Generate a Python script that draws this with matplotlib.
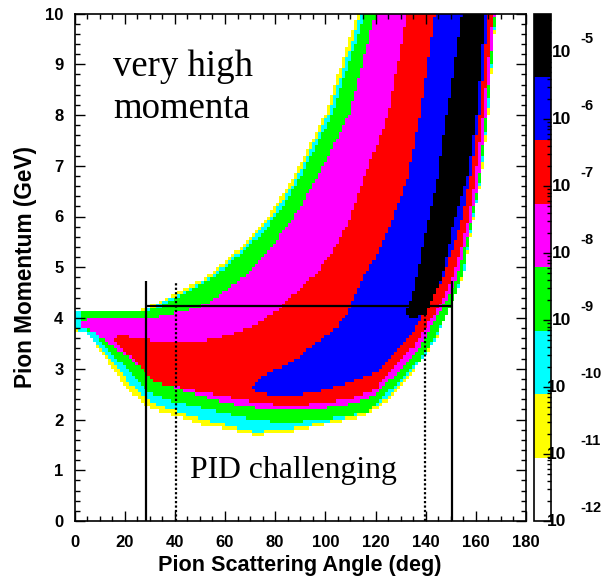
import numpy as np
import matplotlib
matplotlib.use("Agg")
import matplotlib.pyplot as plt
from matplotlib.colors import ListedColormap, LogNorm
from matplotlib.path import Path
from matplotlib.ticker import MultipleLocator, LogLocator, NullFormatter

# ---------------- data ----------------
# colour bands (low -> high), equal steps in log10 between z_min_exp and z_max_exp
band_colors = ["#ffffff", "#ffff00", "#00ffff", "#00ff00",
               "#ff00ff", "#ff0000", "#0000ff", "#000000"]
z_min_exp = -12.0
z_max_exp = -4.425

# histogram binning (angle in deg, momentum in GeV)
angle_edges = np.linspace(0, 180, 151)
momentum_edges = np.linspace(0, 10, 151)

# outlines (angle, momentum) of regions where the value reaches each band
yellow_region = [(113.5, 10.5), (113, 10), (100, 8.0), (87, 6.75), (80, 6.2), (74, 5.8),
                 (66.5, 5.4), (53, 4.82), (40, 4.47), (30, 4.22), (25, 4.14), (20, 4.13),
                 (0, 4.13), (0, 3.75), (5, 3.7), (8, 3.5), (13, 3.15), (18.7, 2.75),
                 (23, 2.5), (30.7, 2.2), (40, 2.08), (51, 1.9), (64, 1.78), (72, 1.68),
                 (86.6, 1.76), (100, 1.9), (112, 2.02), (120, 2.18), (125, 2.4),
                 (130, 2.68), (137.7, 3.12), (144.5, 3.62), (148.4, 4.08), (152.4, 4.52),
                 (155.5, 4.92), (158.5, 5.8), (162, 6.7), (165, 8.0), (168, 10), (168.5, 10.5)]
cyan_region = [(114.7, 10.5), (114.5, 10), (101.5, 8.04), (88.5, 6.75), (81.5, 6.2),
               (75.5, 5.8), (68, 5.4), (54.5, 4.82), (41.5, 4.46), (31.5, 4.21), (26, 4.13),
               (0, 4.12), (0, 3.78), (5, 3.72), (8, 3.55), (13.3, 3.25), (18.7, 2.9),
               (23, 2.65), (30.7, 2.33), (40, 2.17), (51, 2.0), (64, 1.85), (72, 1.75),
               (86.6, 1.82), (100, 1.95), (112, 2.07), (120, 2.25), (125, 2.45), (130, 2.7),
               (137.7, 3.14), (144.5, 3.64), (148.4, 4.09), (152.4, 4.53), (155.3, 4.93),
               (158.3, 5.8), (161.8, 6.7), (164.8, 8.0), (167.9, 10), (168.3, 10.5)]
green_region = [(116.5, 10.5), (116, 10), (103, 8.04), (90, 6.75), (83, 6.2), (77, 5.8),
                (69.5, 5.4), (56, 4.82), (43, 4.45), (33, 4.2), (25, 4.1), (2, 4.1),
                (2, 3.85), (5, 3.75), (8, 3.7), (13.3, 3.37), (18.7, 3.1), (24, 2.84),
                (30.7, 2.5), (40, 2.35), (53, 2.2), (66.5, 2.05), (80, 1.95), (93, 1.97),
                (106.5, 2.05), (117, 2.15), (121.7, 2.4), (129.7, 2.78), (137.7, 3.18),
                (144.5, 3.7), (148.4, 4.1), (152.4, 4.55), (155, 4.94), (158, 5.8),
                (161.5, 6.7), (164.5, 8.0), (167.8, 10), (168, 10.5)]
magenta_region = [(121, 10.5), (120, 10), (110, 8.04), (96.5, 6.73), (90, 6.18), (85, 5.82),
                  (80, 5.5), (72, 5.0), (62, 4.6), (52, 4.25), (42, 4.12), (30, 4.0),
                  (5, 3.97), (2.5, 3.9), (3, 3.8), (6.7, 3.75), (13.3, 3.5), (22.7, 3.18),
                  (30.7, 2.84), (40, 2.62), (53, 2.43), (66.5, 2.26), (80, 2.2), (93, 2.2),
                  (106.5, 2.26), (117, 2.4), (121.7, 2.59), (129.7, 2.98), (137.7, 3.43),
                  (142.9, 3.9), (148.4, 4.35), (152.4, 4.8), (155, 5.3), (157.5, 5.8),
                  (161, 6.7), (164, 8.0), (167.5, 10), (168, 10.5)]
red_region = [(133, 10.5), (132.5, 10), (125, 8.04), (115.5, 6.73), (109, 5.85),
              (102.5, 5.27), (96, 4.85), (88, 4.49), (80, 4.12), (72, 3.86), (64, 3.7),
              (53, 3.57), (40, 3.5), (29, 3.57), (17, 3.67), (15.5, 3.6), (17, 3.45),
              (22, 3.25), (26.7, 3.04), (32, 2.72), (40, 2.65), (46.7, 2.58), (60, 2.45),
              (73, 2.33), (86.6, 2.26), (99.8, 2.33), (113, 2.45), (120, 2.58),
              (121.7, 2.72), (128.5, 3.12), (135, 3.43), (141.7, 3.96), (146.8, 4.35),
              (150.4, 4.8), (153.6, 5.3), (156.4, 5.82), (159.6, 6.73), (162.8, 8.04),
              (166.8, 10), (167, 10.5)]
blue_region = [(144, 10.5), (143.6, 10), (137.7, 8.04), (132.5, 6.73), (125.7, 5.82),
               (120, 5.2), (115, 4.77), (109.5, 4.14), (105, 3.82), (99.8, 3.63),
               (93, 3.37), (86.6, 3.12), (77, 2.92), (70.6, 2.65), (73, 2.52),
               (86.6, 2.45), (99.8, 2.58), (113, 2.78), (120, 2.92), (125, 3.15),
               (130, 3.45), (135, 3.76), (139, 4.1), (143, 4.4), (146.8, 4.8),
               (149.6, 5.2), (153.6, 5.82), (157.6, 6.73), (161.6, 8.04), (164.8, 10),
               (165, 10.5)]
black_region = [(154.4, 10.5), (154.4, 10), (148.4, 8.04), (144.5, 6.73), (140.5, 5.82),
                (137, 5.0), (135, 4.5), (132, 4.1), (134, 3.98), (140, 4.1), (144, 4.5),
                (146.8, 4.9), (150.8, 5.82), (156.4, 6.73), (160.4, 8.04), (163.6, 10),
                (163.6, 10.5)]
band_regions = [yellow_region, cyan_region, green_region, magenta_region,
                red_region, blue_region, black_region]

# analysis cut lines
cut_solid_angles = [28.6, 150.4]
cut_dotted_angles = [40.4, 139.7]
cut_top_momentum = 4.73
cut_momentum = 4.24

# ---------------- build the histogram ----------------
n_bands = len(band_colors)
band_width = (z_max_exp - z_min_exp) / n_bands
ac = 0.5 * (angle_edges[:-1] + angle_edges[1:])
mc = 0.5 * (momentum_edges[:-1] + momentum_edges[1:])
A, M = np.meshgrid(ac, mc)
pts = np.column_stack([A.ravel(), M.ravel()])
level = np.zeros(A.size, dtype=int)
for k, poly in enumerate(band_regions, start=1):
    inside = Path(poly).contains_points(pts)
    level[inside] = np.maximum(level[inside], k)
level = level.reshape(A.shape)
Z = 10.0 ** (z_min_exp + (level + 0.5) * band_width)
Z = np.ma.masked_where(level == 0, Z)

# ---------------- figure ----------------
W, H = 604, 578
fig = plt.figure(figsize=(W / 100, H / 100), dpi=100)
L, R, T, B = 74.5, 526, 13.5, 521
ax = fig.add_axes([L / W, 1 - B / H, (R - L) / W, (B - T) / H])
cax = fig.add_axes([534 / W, 1 - B / H, 17 / W, (B - T) / H])

cmap = ListedColormap(band_colors)
norm = LogNorm(vmin=10 ** z_min_exp, vmax=10 ** z_max_exp)
mesh = ax.pcolormesh(angle_edges, momentum_edges, Z, cmap=cmap, norm=norm,
                     shading="flat", rasterized=True)

ax.set_xlim(0, 180)
ax.set_ylim(0, 10)

ax.xaxis.set_major_locator(MultipleLocator(20))
ax.xaxis.set_minor_locator(MultipleLocator(5))
ax.yaxis.set_major_locator(MultipleLocator(1))
ax.yaxis.set_minor_locator(MultipleLocator(0.2))
ax.tick_params(which="both", direction="in", top=True, right=True, width=1)
ax.tick_params(which="major", length=7)
ax.tick_params(which="minor", length=3.5)
ax.tick_params(axis="x", pad=10)
ax.tick_params(axis="y", pad=8)
for lab in ax.get_xticklabels() + ax.get_yticklabels():
    lab.set_fontfamily("Liberation Sans")
    lab.set_fontweight("bold")
    lab.set_fontsize(12)
for s in ax.spines.values():
    s.set_linewidth(1.2)

ax.set_xlabel("Pion Scattering Angle (deg)", fontfamily="Liberation Sans",
              fontweight="bold", fontsize=15.6)
ax.set_ylabel("Pion Momentum (GeV)", fontfamily="Liberation Sans",
              fontweight="bold", fontsize=16.3)
ax.xaxis.set_label_coords(0.5, -0.067)
ax.yaxis.set_label_coords(-0.083, 0.5)

# cut lines
ax.vlines(cut_solid_angles, 0, cut_top_momentum, colors="black", linewidth=1.6)
ax.vlines(cut_dotted_angles, 0, cut_top_momentum, colors="black", linewidth=1.6,
          linestyles=(0, (1, 1)))
ax.hlines(cut_momentum, cut_solid_angles[0], cut_solid_angles[1], colors="black",
          linewidth=1.6)

# annotations
serif = dict(family="Liberation Serif", color="black")
ax.text(15.4, 8.77, "very high", fontsize=26.5, va="baseline", ha="left", **serif)
ax.text(15.4, 7.94, "momenta", fontsize=26.5, va="baseline", ha="left", **serif)
ax.text(46.0, 0.85, "PID challenging", fontsize=22.8, va="baseline", ha="left", **serif)

# colour bar
cb = fig.colorbar(mesh, cax=cax)
cb.outline.set_linewidth(1.2)
cax.yaxis.set_major_locator(LogLocator(base=10, numticks=20))
cax.yaxis.set_minor_locator(LogLocator(base=10, subs=np.arange(2, 10), numticks=20))
cax.yaxis.set_minor_formatter(NullFormatter())
cax.tick_params(which="both", direction="in", right=True, left=False,
                labelright=False, labelleft=False, width=1)
cax.tick_params(which="major", length=6)
cax.tick_params(which="minor", length=3)
cax.set_ylim(10 ** z_min_exp, 10 ** z_max_exp)

decade_exps = list(range(-12, -4))
for e in decade_exps:
    yfrac = (e - z_min_exp) / (z_max_exp - z_min_exp)
    yfig = (1 - B / H) + yfrac * (B - T) / H
    x10 = 552 if e > -10 else 547
    fig.text(x10 / W, yfig, "10", fontsize=12.5, fontfamily="Liberation Sans",
             fontweight="bold", ha="left", va="center")
    fig.text(580 / W, yfig + 13 / H, str(e), fontsize=10.5, fontfamily="Liberation Sans",
             fontweight="bold", ha="left", va="center")

fig.savefig("out.png", dpi=100)
